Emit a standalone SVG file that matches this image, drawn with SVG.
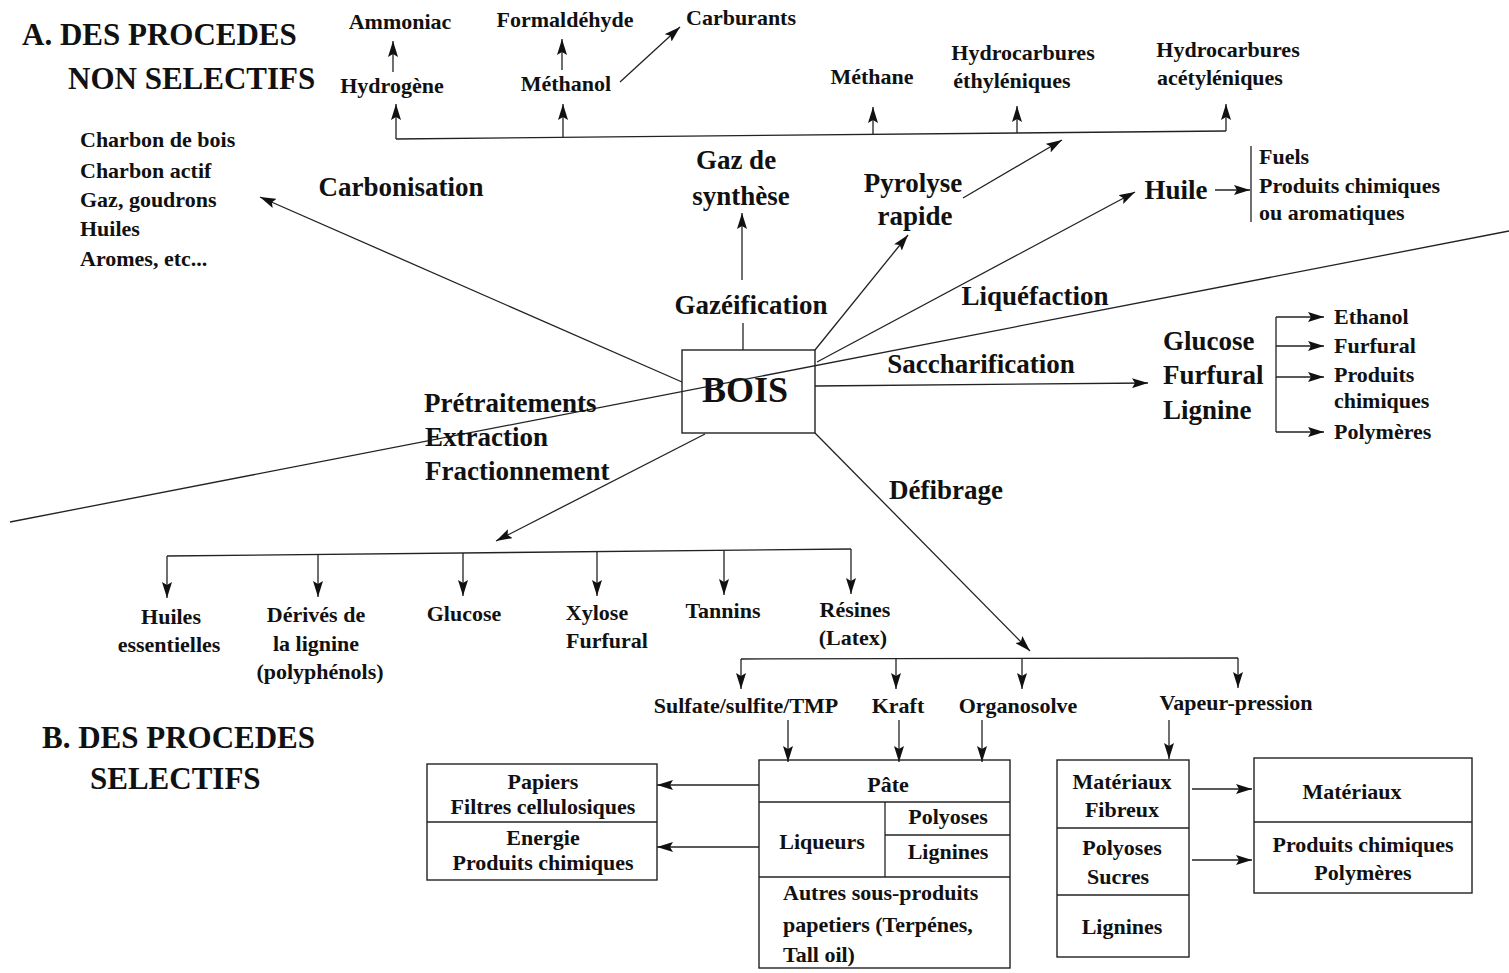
<svg xmlns="http://www.w3.org/2000/svg" width="1509" height="973" viewBox="0 0 1509 973">
<style>
text{font-family:"Liberation Serif","Times New Roman",serif;font-weight:bold;fill:#111}
.t{font-size:31px}
.p{font-size:27px}
.s{font-size:22px}
.m{text-anchor:middle}
.ln{stroke:#222;stroke-width:1.3;fill:none}
.ar{stroke:#222;stroke-width:1.3;fill:none;marker-end:url(#ah)}
.bx{stroke:#222;stroke-width:1.4;fill:none}
</style>
<defs>
<marker id="ah" viewBox="0 0 16 10" refX="16" refY="5" markerWidth="16" markerHeight="10" markerUnits="userSpaceOnUse" orient="auto"><path d="M0,0 L16,5 L0,10 L3,5 z" fill="#111"/></marker>
</defs>
<rect width="1509" height="973" fill="#fff"/>

<g id="titles">
<text class="t" x="22" y="45">A. DES PROCEDES</text>
<text class="t" x="68" y="89">NON SELECTIFS</text>
<text class="t" x="42" y="748">B. DES PROCEDES</text>
<text class="t" x="90" y="789">SELECTIFS</text>
</g>

<g id="divider"><line class="ln" x1="10" y1="522" x2="1509" y2="231" stroke-width="1.1"/></g>

<g id="bois">
<rect class="bx" x="682" y="350" width="133" height="83"/>
<text x="745" y="402" font-size="36" class="m">BOIS</text>
</g>

<g id="connectors">
<line class="ar" x1="682" y1="382" x2="260" y2="197"/>
<line class="ln" x1="743" y1="350" x2="743" y2="323"/>
<line class="ar" x1="742" y1="280" x2="742" y2="213"/>
<line class="ar" x1="815" y1="350" x2="908" y2="235"/>
<line class="ar" x1="963" y1="198" x2="1062" y2="140"/>
<line class="ar" x1="817" y1="362" x2="1135" y2="192"/>
<line class="ar" x1="1215" y1="190" x2="1250" y2="190"/>
<line class="ln" x1="1251" y1="146" x2="1251" y2="222"/>
<line class="ar" x1="815" y1="386" x2="1148" y2="383"/>
<line class="ln" x1="1276" y1="317" x2="1276" y2="432"/>
<line class="ar" x1="1276" y1="317" x2="1324" y2="317"/>
<line class="ar" x1="1276" y1="346" x2="1324" y2="346"/>
<line class="ar" x1="1276" y1="377" x2="1324" y2="377"/>
<line class="ar" x1="1276" y1="432" x2="1324" y2="432"/>
<polyline class="ln" points="396,139 1226,131"/>
<line class="ar" x1="396" y1="139" x2="396" y2="104"/>
<line class="ar" x1="563" y1="137" x2="563" y2="104"/>
<line class="ar" x1="873" y1="134" x2="873" y2="107"/>
<line class="ar" x1="1017" y1="133" x2="1017" y2="106"/>
<line class="ar" x1="1226" y1="131" x2="1226" y2="104"/>
<line class="ar" x1="393" y1="72" x2="393" y2="41"/>
<line class="ar" x1="562" y1="70" x2="562" y2="39"/>
<line class="ar" x1="620" y1="82" x2="680" y2="27"/>
<line class="ar" x1="705" y1="434" x2="496" y2="541"/>
<polyline class="ln" points="167,556 851,549"/>
<line class="ar" x1="167" y1="556" x2="167" y2="598"/>
<line class="ar" x1="318" y1="554" x2="318" y2="597"/>
<line class="ar" x1="463" y1="553" x2="463" y2="596"/>
<line class="ar" x1="597" y1="552" x2="597" y2="596"/>
<line class="ar" x1="724" y1="550" x2="724" y2="595"/>
<line class="ar" x1="851" y1="549" x2="851" y2="594"/>
<line class="ar" x1="815" y1="433" x2="1030" y2="651"/>
<line class="ln" x1="741" y1="659" x2="1238" y2="658"/>
<line class="ar" x1="741" y1="659" x2="741" y2="689"/>
<line class="ar" x1="896" y1="659" x2="896" y2="689"/>
<line class="ar" x1="1022" y1="659" x2="1022" y2="689"/>
<line class="ar" x1="1238" y1="658" x2="1238" y2="688"/>
<line class="ar" x1="788" y1="720" x2="788" y2="762"/>
<line class="ar" x1="899" y1="720" x2="899" y2="762"/>
<line class="ar" x1="982" y1="720" x2="982" y2="762"/>
<line class="ar" x1="1169" y1="720" x2="1169" y2="759"/>
<line class="ar" x1="759" y1="785" x2="657" y2="785"/>
<line class="ar" x1="759" y1="847" x2="657" y2="847"/>
<line class="ar" x1="1192" y1="789" x2="1252" y2="789"/>
<line class="ar" x1="1192" y1="860" x2="1252" y2="860"/>
</g>

<g id="top-products">
<text class="s m" x="400" y="29">Ammoniac</text>
<text class="s m" x="565" y="27">Formaldéhyde</text>
<text class="s" x="686" y="25">Carburants</text>
<text class="s m" x="392" y="93">Hydrogène</text>
<text class="s m" x="566" y="91">Méthanol</text>
<text class="s m" x="872" y="84">Méthane</text>
<text class="s m" x="1023" y="60">Hydrocarbures</text>
<text class="s m" x="1012" y="88">éthyléniques</text>
<text class="s m" x="1228" y="57">Hydrocarbures</text>
<text class="s m" x="1220" y="85">acétyléniques</text>
</g>

<g id="carbonisation">
<text class="s" x="80" y="147">Charbon de bois</text>
<text class="s" x="80" y="178">Charbon actif</text>
<text class="s" x="80" y="207">Gaz, goudrons</text>
<text class="s" x="80" y="236">Huiles</text>
<text class="s" x="80" y="266">Aromes, etc...</text>
<text class="p m" x="401" y="196">Carbonisation</text>
</g>

<g id="gazeification">
<text class="p m" x="736" y="169">Gaz de</text>
<text class="p m" x="741" y="205">synthèse</text>
<text class="p m" x="751" y="314">Gazéification</text>
</g>

<g id="pyrolyse">
<text class="p m" x="913" y="192">Pyrolyse</text>
<text class="p m" x="915" y="225">rapide</text>
</g>

<g id="liquefaction">
<text class="p m" x="1035" y="305">Liquéfaction</text>
<text class="p m" x="1176" y="199">Huile</text>
<text class="s" x="1259" y="164">Fuels</text>
<text class="s" x="1259" y="193">Produits chimiques</text>
<text class="s" x="1259" y="220">ou aromatiques</text>
</g>

<g id="saccharification">
<text class="p m" x="981" y="373">Saccharification</text>
<text class="p" x="1163" y="350">Glucose</text>
<text class="p" x="1163" y="384">Furfural</text>
<text class="p" x="1163" y="419">Lignine</text>
<text class="s" x="1334" y="324">Ethanol</text>
<text class="s" x="1334" y="353">Furfural</text>
<text class="s" x="1334" y="382">Produits</text>
<text class="s" x="1334" y="408">chimiques</text>
<text class="s" x="1334" y="439">Polymères</text>
</g>

<g id="pretraitements">
<text class="p" x="424" y="412">Prétraitements</text>
<text class="p" x="425" y="446">Extraction</text>
<text class="p" x="425" y="480">Fractionnement</text>
<text class="s m" x="171" y="624">Huiles</text>
<text class="s m" x="169" y="652">essentielles</text>
<text class="s m" x="316" y="622">Dérivés de</text>
<text class="s m" x="316" y="651">la lignine</text>
<text class="s m" x="320" y="679">(polyphénols)</text>
<text class="s m" x="464" y="621">Glucose</text>
<text class="s m" x="597" y="620">Xylose</text>
<text class="s m" x="607" y="648">Furfural</text>
<text class="s m" x="723" y="618">Tannins</text>
<text class="s m" x="855" y="617">Résines</text>
<text class="s m" x="853" y="645">(Latex)</text>
</g>

<g id="defibrage">
<text class="p m" x="946" y="499">Défibrage</text>
<text class="s m" x="746" y="713">Sulfate/sulfite/TMP</text>
<text class="s m" x="898" y="713">Kraft</text>
<text class="s m" x="1018" y="713">Organosolve</text>
<text class="s m" x="1236" y="710">Vapeur-pression</text>
</g>

<g id="box-papiers">
<rect class="bx" x="427" y="764" width="230" height="116"/>
<line class="ln" x1="427" y1="822" x2="657" y2="822"/>
<text class="s m" x="543" y="789">Papiers</text>
<text class="s m" x="543" y="814">Filtres cellulosiques</text>
<text class="s m" x="543" y="845">Energie</text>
<text class="s m" x="543" y="870">Produits chimiques</text>
</g>

<g id="box-pate">
<rect class="bx" x="759" y="760" width="251" height="208"/>
<line class="ln" x1="759" y1="802" x2="1010" y2="802"/>
<line class="ln" x1="759" y1="877" x2="1010" y2="877"/>
<line class="ln" x1="885" y1="802" x2="885" y2="877"/>
<line class="ln" x1="885" y1="835" x2="1010" y2="835"/>
<text class="s m" x="888" y="792">Pâte</text>
<text class="s m" x="822" y="849">Liqueurs</text>
<text class="s m" x="948" y="824">Polyoses</text>
<text class="s m" x="948" y="859">Lignines</text>
<text class="s" x="783" y="900">Autres sous-produits</text>
<text class="s" x="783" y="932">papetiers (Terpénes,</text>
<text class="s" x="783" y="962">Tall oil)</text>
</g>

<g id="box-fibreux">
<rect class="bx" x="1057" y="760" width="132" height="197"/>
<line class="ln" x1="1057" y1="828" x2="1189" y2="828"/>
<line class="ln" x1="1057" y1="895" x2="1189" y2="895"/>
<text class="s m" x="1122" y="789">Matériaux</text>
<text class="s m" x="1122" y="817">Fibreux</text>
<text class="s m" x="1122" y="855">Polyoses</text>
<text class="s m" x="1118" y="884">Sucres</text>
<text class="s m" x="1122" y="934">Lignines</text>
</g>

<g id="box-materiaux">
<rect class="bx" x="1254" y="758" width="218" height="135"/>
<line class="ln" x1="1254" y1="822" x2="1472" y2="822"/>
<text class="s m" x="1352" y="799">Matériaux</text>
<text class="s m" x="1363" y="852">Produits chimiques</text>
<text class="s m" x="1363" y="880">Polymères</text>
</g>
</svg>
